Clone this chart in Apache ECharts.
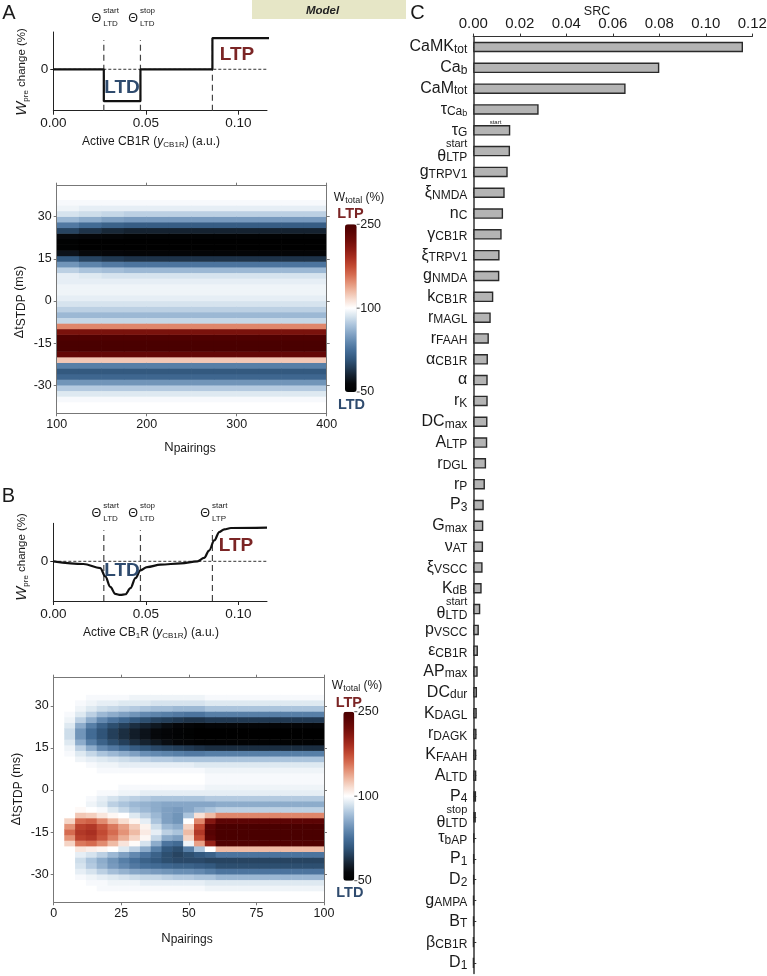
<!DOCTYPE html>
<html><head><meta charset="utf-8">
<script src="https://cdn.jsdelivr.net/npm/echarts@6/dist/echarts.min.js"></script>
<style>html,body{margin:0;padding:0;background:#fff}#c{width:767px;height:976px}</style>
</head><body><div id="c"></div>
<script>
// ================= DATA =================
// Panel A/B top: thresholds (Θstart_LTD, Θstop_LTD, Θstart_LTP) in active CB1R units
const thresholds = [0.0273, 0.0471, 0.0860];
const xTickVals = [0, 0.05, 0.10];
// Panel A top: step-like plasticity rule
const aStepX = [0, 0.0273, 0.0273, 0.0471, 0.0471, 0.0860, 0.0860, 0.1190];
const aStepY = [0, 0, -1, -1, 0, 0, 0.98, 0.98];
// Panel B top: smooth plasticity rule
const bCurveX = [0, 0.0163, 0.0254, 0.0281, 0.0308, 0.0335, 0.0363, 0.0390, 0.0417, 0.0444, 0.0471, 0.0507, 0.0580, 0.0689, 0.0779, 0.0815, 0.0842, 0.0870, 0.0897, 0.0924, 0.0960, 0.1155];
const bCurveY = [0, -0.08, -0.2, -0.45, -0.76, -0.97, -1.0, -0.98, -0.8, -0.5, -0.27, -0.17, -0.1, -0.06, 0, 0.1, 0.32, 0.62, 0.87, 0.95, 0.99, 1.0];

// Heatmaps: Δt_STDP rows (2-ms bins, centre values) and W_total (%) values
const heatRows = [-39,-37,-35,-33,-31,-29,-27,-25,-23,-21,-19,-17,-15,-13,-11,-9,-7,-5,-3,-1,1,3,5,7,9,11,13,15,17,19,21,23,25,27,29,31,33,35,37,39];
const dtTicks = [-30, -15, 0, 15, 30];

// Panel A heatmap: N_pairings bins (centres) and column profiles over heatRows
const aCols = [112.5,137.5,162.5,187.5,212.5,237.5,262.5,287.5,312.5,337.5,362.5,387.5];
const aProfE1 = [100,100,99,96,91,82,73,70,78,125, 230,250,250,245,215,150,93,88,92,95, 97,98,98,97,97, 92,82,70,57,51,51,55,66,77,88, 95,98,99,100,100];
const aProfE2 = [100,100,99,96,91,82,73,70,78,125, 230,250,250,245,215,150,93,88,92,95, 97,98,98,97,96, 90,79,66,55,50,50,54,63,74,86, 94,97,99,100,100];
const aProfE3 = [100,100,99,96,91,82,73,70,78,125, 230,250,250,245,215,150,93,88,92,95, 97,98,98,97,95, 89,77,64,54,50,50,53,61,72,84, 93,97,99,100,100];
const aProfLate = [100,100,99,96,91,82,73,70,78,125, 230,250,250,245,215,150,93,88,92,95, 97,98,98,97,95, 88,76,63,53,50,50,52,60,71,83, 92,97,99,100,100];
const aColumnProfiles = [aProfE1, aProfE2, aProfE3, aProfLate, aProfLate, aProfLate, aProfLate, aProfLate, aProfLate, aProfLate, aProfLate, aProfLate];

// Panel B heatmap: N_pairings bins (centres) and column profiles over heatRows
const bCols = [2,6,10,14,18,22,26,30,34,38,42,46,50,54,58,62,66,70,74,78,82,86,90,94,98];
const bProf02 = [100,100,100,100,100,100,100,100,100,100, 100,100,100,100,100,100,100,100,100,100, 100,100,100,100,100, 100,100,100,100,100,100,100,100,100,100, 100,100,100,100,100];
const bProf06 = [100,100,100,100,100,100,100,100,100,100, 120,145,160,145,120,100,100,100,100,100, 100,100,100,100,100, 100,99,98,96,94,94,96,98,99,100, 100,100,100,100,100];
const bProf10 = [100,100,100,100,99,97,95,94,97,112, 155,180,185,180,160,125,103,100,100,100, 100,100,100,100,100, 98,96,92,86,82,82,86,92,96,98, 99,100,100,100,100];
const bProf14 = [100,100,100,99,98,95,91,90,95,108, 160,185,190,185,165,122,100,98,99,100, 100,100,100,100,99, 97,93,86,78,74,74,78,86,92,96, 98,99,100,100,100];
const bProf18 = [100,100,99,99,97,92,87,86,92,105, 148,170,175,170,148,112,99,96,97,99, 100,100,100,99,98, 96,90,80,72,69,69,72,80,88,94, 97,99,100,100,100];
const bProf22 = [100,100,99,98,96,89,83,82,88,100, 130,152,160,155,130,104,96,92,95,99, 100,100,100,99,98, 95,88,77,68,65,65,68,76,86,93, 97,99,100,100,100];
const bProf26 = [100,100,99,98,95,87,80,78,84,96, 113,135,145,140,116,100,93,90,93,98, 99,100,100,99,97, 94,86,74,65,62,62,65,73,84,92, 96,99,100,100,100];
const bProf30 = [100,100,99,98,94,85,77,75,80,92, 102,120,130,123,105,96,90,88,92,98, 99,100,100,99,97, 93,84,71,62,59,59,62,70,82,91, 96,98,100,100,100];
const bProf34 = [100,100,99,97,93,84,75,72,76,86, 95,104,110,106,97,92,88,87,91,97, 99,100,100,99,97, 92,81,69,60,57,57,60,68,80,90, 96,98,100,100,100];
const bProf38 = [100,100,99,97,93,83,74,70,72,78, 86,93,97,94,90,88,86,86,90,97, 99,100,100,99,97, 91,80,67,58,55,55,58,66,79,89, 95,98,100,100,100];
const bProf42 = [100,100,99,97,92,82,73,68,68,70, 76,86,92,88,84,84,84,85,90,97, 99,100,100,99,97, 91,79,66,56,53,53,56,65,78,89, 95,98,100,100,100];
const bProf46 = [100,100,99,97,91,81,72,67,66,68, 74,84,90,86,82,82,83,85,90,97, 99,100,100,99,97, 90,78,65,54,52,52,54,64,77,88, 95,98,100,100,100];
const bProf50 = [100,100,99,97,91,81,72,67,68,78, 98,120,130,120,100,90,85,85,90,97, 99,100,100,99,97, 90,77,64,53,51,51,53,63,76,88, 95,98,100,100,100];
const bProf54 = [100,100,99,97,90,80,71,67,70,90, 140,175,185,175,150,115,88,85,90,97, 99,100,100,99,96, 90,77,63,52,50,50,52,63,76,88, 95,98,100,100,100];
const bProf58 = [100,100,98,96,90,78,70,66,72,100, 200,235,240,235,210,130,90,85,91,97, 98,99,99,98,96, 90,78,62,52,50,50,53,64,78,90, 96,99,100,100,100];
const bProfLate = [100,100,98,96,88,76,68,66,76,130, 245,250,250,250,235,150,92,86,91,97, 98,99,99,98,96, 90,78,62,52,50,50,53,64,78,90, 96,99,100,100,100];
const bColumnProfiles = [bProf02,bProf06,bProf10,bProf14,bProf18,bProf22,bProf26,bProf30,bProf34,bProf38,bProf42,bProf46,bProf50,bProf54,bProf58,
  bProfLate,bProfLate,bProfLate,bProfLate,bProfLate,bProfLate,bProfLate,bProfLate,bProfLate,bProfLate];

// Panel C: sensitivity (SRC) per parameter
const srcLabels = ['{m|CaMK}{s|tot}','{m|Ca}{s|b}','{m|CaM}{s|tot}','{m|τ}{s|Ca}{ss|b}','{m|τ}{s|G}','{sup|start}\n{mt|θ}{st|LTP}',
 '{m|g}{s|TRPV1}','{m|ξ}{s|NMDA}','{m|n}{s|C}','{m|γ}{s|CB1R}','{m|ξ}{s|TRPV1}','{m|g}{s|NMDA}','{m|k}{s|CB1R}','{m|r}{s|MAGL}',
 '{m|r}{s|FAAH}','{m|α}{s|CB1R}','{m|α}','{m|r}{s|K}','{m|DC}{s|max}','{m|A}{s|LTP}','{m|r}{s|DGL}','{m|r}{s|P}','{m|P}{s|3}',
 '{m|G}{s|max}','{m|ν}{s|AT}','{m|ξ}{s|VSCC}','{m|K}{s|dB}','{sup|start}\n{mt|θ}{st|LTD}','{m|p}{s|VSCC}','{m|ε}{s|CB1R}',
 '{m|AP}{s|max}','{m|DC}{s|dur}','{m|K}{s|DAGL}','{m|r}{s|DAGK}','{m|K}{s|FAAH}','{m|A}{s|LTD}','{m|P}{s|4}','{sup|stop}\n{mt|θ}{st|LTD}',
 '{m|τ}{s|bAP}','{m|P}{s|1}','{m|D}{s|2}','{m|g}{s|AMPA}','{m|B}{s|T}','{m|β}{s|CB1R}','{m|D}{s|1}'];
const srcValues = [0.116,0.080,0.0655,0.0281,0.0159,0.0158,0.0148,0.0135,0.0128,0.0122,0.0113,0.0112,0.0086,0.0075,0.0067,
 0.0063,0.0062,0.0062,0.0061,0.0060,0.0055,0.0050,0.0045,0.0043,0.0042,0.0040,0.0036,0.0030,0.0024,0.0020,0.0019,0.0016,
 0.0015,0.0014,0.0013,0.0013,0.0012,0.0011,0.0004,0.0003,0.0003,0.0002,0.0002,0.0001,0.0001];

// ================= STYLE =================
const FONT = '"Liberation Sans", Arial, Helvetica, sans-serif';
const TXT = '#1a1a1a';
const LTD_C = '#2f4b6e', LTP_C = '#7b2525';
const PALETTE = ['#000000','#06080b','#152230','#243f5a','#33597f','#466f99','#6389b0','#86a6c7','#abc4dc','#d6e3ee','#ffffff',
  '#f8e0d5','#efbba5','#e49378','#d56b50','#c24a33','#a92f21','#8c1b13','#710d09','#5c0404','#4a0000'];
// colour-bar scale: 50 -> 0, 100 -> 0.5 (middle), 250 -> 1
function colorPos(v){ return v <= 100 ? (v - 50) / 100 : 0.5 + (v - 100) / 300; }
function heatData(profiles){ const d=[]; profiles.forEach((p,ci)=>p.forEach((v,ri)=>d.push([ci,ri,colorPos(v)]))); return d; }

const A_XMAX = 0.1155;
const G = {
  aTop:  {left:53.3, top:32, width:213.7, height:78.7},
  aHeat: {left:56.7, top:188.5, width:270, height:224.8},
  aAx:   {left:56.7, top:185.7, width:270, height:227.6},
  bTop:  {left:53.3, top:523.3, width:213.7, height:77.7},
  bHeat: {left:53.7, top:677.7, width:270.3, height:224.6},
  bAx:   {left:53.7, top:677.7, width:270.3, height:224.6},
  c:     {left:473.3, top:36.6, width:279, height:936.8}
};
const grids = Object.values(G).map(g => Object.assign({containLabel:false, outerBoundsMode:'none'}, g));

function lineX(gi){ return {type:'value', gridIndex:gi, min:0, max:A_XMAX,
  axisLine:{show:true,onZero:false,lineStyle:{color:'#222',width:1}},
  axisTick:{show:true,length:4,customValues:xTickVals,lineStyle:{color:'#222'}},
  axisLabel:{customValues:xTickVals,formatter:v=>v.toFixed(2),fontSize:13.5,color:TXT,fontFamily:FONT,margin:6},
  splitLine:{show:false}}; }
function lineY(gi,min,max){ return {type:'value', gridIndex:gi, min, max,
  axisLine:{show:true,onZero:false,lineStyle:{color:'#222',width:1}},
  axisTick:{show:true,length:3,customValues:[0],lineStyle:{color:'#222'}},
  axisLabel:{customValues:[0],fontSize:13.5,color:TXT,fontFamily:FONT,margin:5},
  splitLine:{show:false}}; }
function hiddenCat(gi,data){ return {type:'category', gridIndex:gi, data:data.map(String), show:false, boundaryGap:true}; }
const AXC = '#777';
function hmX(gi,min,max,interval,pos,labels){ return {type:'value', gridIndex:gi, position:pos, min, max, interval, z:10,
  axisLine:{show:true,onZero:false,lineStyle:{color:AXC,width:1}},
  axisTick:{show:true,length:3,lineStyle:{color:AXC}},
  axisLabel:{show:labels,fontSize:12.5,color:TXT,fontFamily:FONT,margin:5},
  splitLine:{show:false}}; }
function hmY(gi,min,max,pos,labels){ return {type:'value', gridIndex:gi, position:pos, min, max, z:10,
  axisLine:{show:true,onZero:false,lineStyle:{color:AXC,width:1}},
  axisTick:{show:true,length:3,customValues:dtTicks,lineStyle:{color:AXC}},
  axisLabel:{show:labels,customValues:dtTicks,fontSize:12.5,color:TXT,fontFamily:FONT,margin:5},
  splitLine:{show:false}}; }

const xAxis = [
  lineX(0),
  hiddenCat(1,aCols),
  hmX(2,100,400,100,'bottom',true),
  hmX(2,100,400,100,'top',false),
  lineX(3),
  hiddenCat(4,bCols),
  hmX(5,0,100,25,'bottom',true),
  hmX(5,0,100,25,'top',false),
  {type:'value', gridIndex:6, position:'top', min:0, max:0.12, interval:0.02,
   axisLine:{show:true,onZero:false,lineStyle:{color:'#333',width:1.2}},
   axisTick:{show:true,length:3,lineStyle:{color:'#333'}},
   axisLabel:{formatter:v=>v.toFixed(2),fontSize:15,color:TXT,fontFamily:FONT,margin:5},
   splitLine:{show:false}}
];
const yAxis = [
  lineY(0,-1.3,1.17),
  hiddenCat(1,heatRows),
  hmY(2,-40,41,'left',true),
  hmY(2,-40,41,'right',false),
  lineY(3,-1.18,1.13),
  hiddenCat(4,heatRows),
  hmY(5,-40,40,'left',true),
  hmY(5,-40,40,'right',false),
  {type:'category', gridIndex:6, data:srcLabels, inverse:true,
   axisLine:{show:true,onZero:false,lineStyle:{color:'#333',width:1.5}},
   axisTick:{show:true,inside:true,length:3,alignWithLabel:true,interval:0,lineStyle:{color:'#333'}},
   axisLabel:{interval:0,margin:6,color:TXT,fontFamily:FONT,
     rich:{
       m:{fontSize:16,fontFamily:FONT,color:TXT,lineHeight:17,verticalAlign:'middle'},
       s:{fontSize:12,fontFamily:FONT,color:TXT,lineHeight:10,verticalAlign:'bottom'},
       ss:{fontSize:9,fontFamily:FONT,color:TXT,lineHeight:6,verticalAlign:'bottom'},
       sup:{fontSize:11,fontFamily:FONT,color:TXT,lineHeight:10},
       mt:{fontSize:16,fontFamily:FONT,color:TXT,lineHeight:15,verticalAlign:'middle'},
       st:{fontSize:12,fontFamily:FONT,color:TXT,lineHeight:9,verticalAlign:'bottom'}
     }},
   splitLine:{show:false}}
];

const series = [];
// A top
series.push({type:'line', xAxisIndex:0, yAxisIndex:0, data:aStepX.map((x,i)=>[x,aStepY[i]]), symbol:'none', clip:false, z:5,
  lineStyle:{color:'#111',width:2.2}, silent:true, animation:false});
series.push({type:'line', xAxisIndex:0, yAxisIndex:0, data:[[0,0],[A_XMAX,0]], symbol:'none', z:3,
  lineStyle:{color:'#333',width:1,type:[3,2]}, silent:true});
thresholds.forEach(t=>series.push({type:'line', xAxisIndex:0, yAxisIndex:0, data:[[t,-1.3],[t,0.92]], symbol:'none', z:4,
  lineStyle:{color:'#444',width:1.2,type:[6,4]}, silent:true}));
// A heatmap
const idxA = series.length;
series.push({type:'heatmap', xAxisIndex:1, yAxisIndex:1, data:heatData(aColumnProfiles), progressive:0, silent:true, emphasis:{disabled:true}});
series.push({type:'scatter', xAxisIndex:2, yAxisIndex:2, data:[], silent:true});
// B top
series.push({type:'line', xAxisIndex:4, yAxisIndex:4, data:bCurveX.map((x,i)=>[x,bCurveY[i]]), symbol:'none', smooth:0.35, smoothMonotone:'x', z:5,
  lineStyle:{color:'#111',width:2.2}, silent:true});
series.push({type:'line', xAxisIndex:4, yAxisIndex:4, data:[[0,0],[A_XMAX,0]], symbol:'none', z:3,
  lineStyle:{color:'#333',width:1,type:[3,2]}, silent:true});
thresholds.forEach(t=>series.push({type:'line', xAxisIndex:4, yAxisIndex:4, data:[[t,-1.18],[t,0.92]], symbol:'none', z:4,
  lineStyle:{color:'#444',width:1.2,type:[6,4]}, silent:true}));
// B heatmap
const idxB = series.length;
series.push({type:'heatmap', xAxisIndex:5, yAxisIndex:5, data:heatData(bColumnProfiles), progressive:0, silent:true, emphasis:{disabled:true}});
series.push({type:'scatter', xAxisIndex:6, yAxisIndex:6, data:[], silent:true});
// C bars
series.push({type:'bar', xAxisIndex:8, yAxisIndex:8, data:srcValues, barWidth:10.5, silent:true,
  itemStyle:{color:'#b4b4b4',borderColor:'#2a2a2a',borderWidth:1.4}});

const CB = { a:{left:345, top:224.3, w:11.7, h:167.7}, b:{left:343.3, top:711.7, w:11, h:169} };
function vm(idx, cb){ return {type:'continuous', seriesIndex:idx, dimension:2, min:0, max:1, inRange:{color:PALETTE},
  calculable:false, hoverLink:false, itemWidth:cb.w, itemHeight:cb.h, left:cb.left, top:cb.top, padding:0, text:null,
  orient:'vertical', show:true, textStyle:{fontSize:0}}; }

const chart = echarts.init(document.getElementById('c'));
chart.setOption({
  animation:false, backgroundColor:'#fff',
  grid:grids, xAxis, yAxis, series,
  visualMap:[vm(idxA,CB.a), vm(idxB,CB.b)]
});

// ================= ANNOTATIONS =================
function txt(x,y,text,opt){ return Object.assign({type:'text', x, y, z:100, silent:true,
  style:Object.assign({text, fill:TXT, fontFamily:FONT, fontSize:13, align:'center', verticalAlign:'middle'}, opt||{})}); }
function rtxt(x,y,text,rich,rot){ return {type:'text', x, y, z:100, silent:true, rotation:rot||0,
  style:{text, rich, fill:TXT, fontFamily:FONT, align:'center', verticalAlign:'middle'}}; }
const R = (size,extra)=>Object.assign({fontSize:size,fontFamily:FONT,fill:TXT,color:TXT},extra||{});

const g = [];
// Model box
g.push({type:'rect', shape:{x:252,y:0,width:154,height:19}, style:{fill:'#e6e6c6'}, z:1, silent:true});
g.push(txt(322.5,11,'Model',{fontSize:11.5,fontWeight:'bold',fontStyle:'italic',fill:'#222'}));
// panel letters
g.push(txt(9,13.5,'A',{fontSize:20}));
g.push(txt(8.5,496,'B',{fontSize:20}));
g.push(txt(417.5,13.5,'C',{fontSize:20}));
// threshold labels
function theta(px, yc, sup, sub){
  g.push(txt(px-2.5, yc, 'Θ', {fontSize:12.5, align:'right'}));
  g.push(txt(px-0.5, yc-8.5, sup, {fontSize:8, align:'left'}));
  g.push(txt(px-0.5, yc+5, sub, {fontSize:8, align:'left'}));
}
const pxA = thresholds.map(t=>chart.convertToPixel({xAxisIndex:0}, t));
const pxB = thresholds.map(t=>chart.convertToPixel({xAxisIndex:4}, t));
theta(pxA[0], 19, 'start', 'LTD'); theta(pxA[1], 19, 'stop', 'LTD');
theta(pxB[0], 514, 'start', 'LTD'); theta(pxB[1], 514, 'stop', 'LTD'); theta(pxB[2], 514, 'start', 'LTP');
// LTD / LTP in top plots
g.push(txt(122,87.5,'LTD',{fontSize:19,fontWeight:'bold',fill:LTD_C}));
g.push(txt(237,55,'LTP',{fontSize:19,fontWeight:'bold',fill:LTP_C}));
g.push(txt(122,570.5,'LTD',{fontSize:19,fontWeight:'bold',fill:LTD_C}));
g.push(txt(236,546,'LTP',{fontSize:19,fontWeight:'bold',fill:LTP_C}));
// axis titles (top plots)
const wRich = {w:R(15,{fontStyle:'italic',lineHeight:16,verticalAlign:'middle'}), p:R(8,{lineHeight:6,verticalAlign:'bottom'}), c:R(11.5,{lineHeight:16,verticalAlign:'middle'})};
g.push(rtxt(22,72,'{w|W}{p|pre}{c| change (%)}',wRich,Math.PI/2));
g.push(rtxt(22,557,'{w|W}{p|pre}{c| change (%)}',wRich,Math.PI/2));
const xtRich = {n:R(12,{lineHeight:14,verticalAlign:'middle'}), i:R(12,{fontStyle:'italic',lineHeight:14,verticalAlign:'middle'}), s:R(8,{lineHeight:6,verticalAlign:'bottom'})};
g.push(rtxt(151,142,'{n|Active CB1R (}{i|y}{s|CB1R}{n|) (a.u.)}',xtRich));
g.push(rtxt(151,633,'{n|Active CB}{s|1}{n|R (}{i|y}{s|CB1R}{n|) (a.u.)}',xtRich));
// heatmap titles
const dtRich = {n:R(12.5,{lineHeight:16,verticalAlign:'middle'}), s:R(12,{lineHeight:11,verticalAlign:'bottom'})};
g.push(rtxt(20,302,'{n|Δt}{s|STDP}{n| (ms)}',dtRich,Math.PI/2));
g.push(rtxt(17,789,'{n|Δt}{s|STDP}{n| (ms)}',dtRich,Math.PI/2));
const npRich = {n:R(13,{lineHeight:16,verticalAlign:'middle'}), s:R(12,{lineHeight:11,verticalAlign:'bottom'})};
g.push(rtxt(190,447,'{n|N}{s|pairings}',npRich));
g.push(rtxt(187,938,'{n|N}{s|pairings}',npRich));
// colour bars
const wtRich = {n:R(12,{lineHeight:14,verticalAlign:'middle'}), s:R(9,{lineHeight:8,verticalAlign:'bottom'})};
function cbLabels(cb, titleX, titleY, ltpY, ltdY){
  g.push(rtxt(titleX,titleY,'{n|W}{s|total}{n| (%)}',wtRich));
  g.push(txt(cb.left+5.5,ltpY,'LTP',{fontSize:14.5,fontWeight:'bold',fill:LTP_C}));
  g.push(txt(cb.left+6.5,ltdY,'LTD',{fontSize:14.5,fontWeight:'bold',fill:LTD_C}));
  const r = cb.left + cb.w;
  [[cb.top,'250'],[cb.top+cb.h/2,'100'],[cb.top+cb.h,'50']].forEach(([y,s])=>{
    g.push({type:'line', shape:{x1:r,y1:y,x2:r+3,y2:y}, style:{stroke:'#555',lineWidth:1}, z:100, silent:true});
    g.push(txt(r+3.5,y,s,{fontSize:12.5,align:'left'}));
  });
}
cbLabels(CB.a, 359, 198, 214, 405);
cbLabels(CB.b, 357, 685.7, 702.7, 893.3);
// panel C extras
g.push(txt(597,12,'SRC',{fontSize:12.5}));
g.push(txt(495.5,122.3,'start',{fontSize:6}));

chart.setOption({graphic:{elements:g}});
</script>
</body></html>
